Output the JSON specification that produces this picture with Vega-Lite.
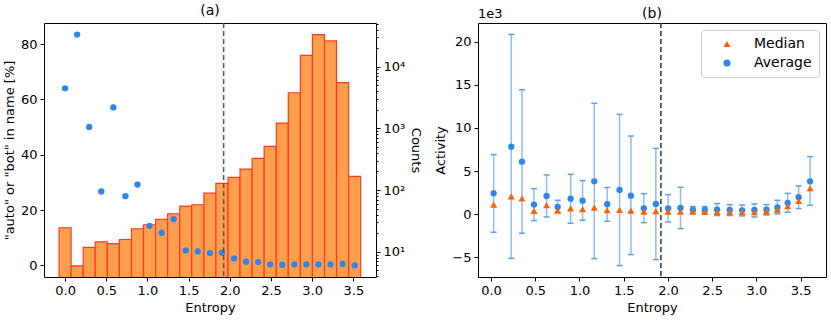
{
  "$schema": "https://vega.github.io/schema/vega-lite/v6.json",
  "background": "white",
  "padding": {"left": 2, "top": 3, "right": 3, "bottom": 3},
  "resolve": {"scale": {"color": "independent", "shape": "independent"}, "legend": {"color": "independent", "shape": "independent"}},
  "config": {
    "font": "DejaVu Sans",
    "view": {"stroke": "black", "strokeWidth": 1},
    "axis": {"domain": false, "grid": false, "tickColor": "black", "tickSize": 4, "tickWidth": 1, "labelColor": "black", "labelFontSize": 13, "titleFontSize": 13, "titleFontWeight": "normal", "titleColor": "black", "labelPadding": 3},
    "title": {"fontSize": 14, "fontWeight": "normal", "color": "black", "offset": 4},
    "concat": {"spacing": 11}
  },
  "datasets": {
    "hist": [
      {"x0": -0.073, "x1": 0.073, "xc": 0.0, "count": 24.5, "pct": 64.0},
      {"x0": 0.073, "x1": 0.220, "xc": 0.1465, "count": 5.9, "pct": 83.4},
      {"x0": 0.220, "x1": 0.366, "xc": 0.293, "count": 11.8, "pct": 50.0},
      {"x0": 0.366, "x1": 0.513, "xc": 0.4395, "count": 14.5, "pct": 26.7},
      {"x0": 0.513, "x1": 0.659, "xc": 0.586, "count": 13.6, "pct": 57.1},
      {"x0": 0.659, "x1": 0.806, "xc": 0.7325, "count": 15.8, "pct": 25.0},
      {"x0": 0.806, "x1": 0.952, "xc": 0.879, "count": 23.6, "pct": 29.2},
      {"x0": 0.952, "x1": 1.099, "xc": 1.0255, "count": 27.4, "pct": 14.3},
      {"x0": 1.099, "x1": 1.245, "xc": 1.172, "count": 33.4, "pct": 11.8},
      {"x0": 1.245, "x1": 1.392, "xc": 1.3185, "count": 41.3, "pct": 16.7},
      {"x0": 1.392, "x1": 1.538, "xc": 1.465, "count": 55, "pct": 5.4},
      {"x0": 1.538, "x1": 1.685, "xc": 1.6115, "count": 57.8, "pct": 5.05},
      {"x0": 1.685, "x1": 1.831, "xc": 1.758, "count": 89, "pct": 4.45},
      {"x0": 1.831, "x1": 1.978, "xc": 1.9045, "count": 128, "pct": 4.6},
      {"x0": 1.978, "x1": 2.124, "xc": 2.051, "count": 160, "pct": 2.5},
      {"x0": 2.124, "x1": 2.271, "xc": 2.1975, "count": 219, "pct": 1.3},
      {"x0": 2.271, "x1": 2.417, "xc": 2.344, "count": 326, "pct": 1.2},
      {"x0": 2.417, "x1": 2.564, "xc": 2.4905, "count": 511, "pct": 0.36},
      {"x0": 2.564, "x1": 2.710, "xc": 2.637, "count": 1219, "pct": 0.24},
      {"x0": 2.710, "x1": 2.857, "xc": 2.7835, "count": 3780, "pct": 0.36},
      {"x0": 2.857, "x1": 3.003, "xc": 2.93, "count": 15280, "pct": 0.36},
      {"x0": 3.003, "x1": 3.150, "xc": 3.0765, "count": 33000, "pct": 0.36},
      {"x0": 3.150, "x1": 3.296, "xc": 3.223, "count": 26080, "pct": 0.36},
      {"x0": 3.296, "x1": 3.443, "xc": 3.3695, "count": 5510, "pct": 0.5},
      {"x0": 3.443, "x1": 3.589, "xc": 3.516, "count": 167, "pct": 0.0}
    ],
    "act": [
      {"x": 0.030, "avg": 2.43, "hi": 6.91, "lo": -2.08, "med": 1.12},
      {"x": 0.229, "avg": 7.84, "hi": 20.85, "lo": -5.10, "med": 2.08},
      {"x": 0.350, "avg": 6.10, "hi": 14.44, "lo": -2.20, "med": 1.85},
      {"x": 0.486, "avg": 1.12, "hi": 2.97, "lo": -0.73, "med": 0.39},
      {"x": 0.628, "avg": 2.12, "hi": 4.56, "lo": -0.31, "med": 1.04},
      {"x": 0.753, "avg": 0.85, "hi": 1.62, "lo": 0.23, "med": 0.42},
      {"x": 0.900, "avg": 1.81, "hi": 4.63, "lo": -1.04, "med": 0.69},
      {"x": 1.035, "avg": 1.58, "hi": 3.90, "lo": -0.69, "med": 0.58},
      {"x": 1.167, "avg": 3.82, "hi": 12.86, "lo": -5.14, "med": 0.77},
      {"x": 1.313, "avg": 1.16, "hi": 3.09, "lo": -0.81, "med": 0.46},
      {"x": 1.453, "avg": 2.82, "hi": 11.58, "lo": -5.95, "med": 0.50},
      {"x": 1.581, "avg": 2.16, "hi": 9.07, "lo": -4.67, "med": 0.42},
      {"x": 1.727, "avg": 0.69, "hi": 2.39, "lo": -0.97, "med": 0.31},
      {"x": 1.863, "avg": 1.20, "hi": 7.64, "lo": -5.25, "med": 0.35},
      {"x": 2.002, "avg": 0.69, "hi": 2.28, "lo": -0.89, "med": 0.31},
      {"x": 2.142, "avg": 0.73, "hi": 3.13, "lo": -1.66, "med": 0.31},
      {"x": 2.281, "avg": 0.50, "hi": 0.89, "lo": 0.12, "med": 0.31},
      {"x": 2.416, "avg": 0.50, "hi": 0.89, "lo": 0.12, "med": 0.27},
      {"x": 2.555, "avg": 0.54, "hi": 1.24, "lo": -0.15, "med": 0.27},
      {"x": 2.698, "avg": 0.50, "hi": 1.12, "lo": -0.15, "med": 0.27},
      {"x": 2.838, "avg": 0.46, "hi": 1.08, "lo": -0.19, "med": 0.23},
      {"x": 2.977, "avg": 0.50, "hi": 1.20, "lo": -0.31, "med": 0.23},
      {"x": 3.113, "avg": 0.54, "hi": 1.12, "lo": -0.08, "med": 0.31},
      {"x": 3.237, "avg": 0.81, "hi": 1.62, "lo": 0.04, "med": 0.54},
      {"x": 3.353, "avg": 1.31, "hi": 2.43, "lo": 0.23, "med": 0.93},
      {"x": 3.477, "avg": 1.97, "hi": 3.28, "lo": 0.66, "med": 1.54},
      {"x": 3.606, "avg": 3.82, "hi": 6.68, "lo": 1.04, "med": 3.01}
    ],
    "one": [{}]
  },
  "hconcat": [
    {
      "width": 332,
      "height": 254,
      "title": {"text": "(a)", "offset": 4},
      "data": {"name": "hist"},
      "resolve": {"scale": {"y": "independent"}},
      "layer": [
        {
          "mark": {"type": "bar", "fill": "#ff9e4c", "stroke": "#ff3b22", "strokeWidth": 1.2, "clip": true},
          "encoding": {
            "x": {"field": "x0", "type": "quantitative", "scale": {"domain": [-0.256, 3.775], "nice": false, "zero": false}, "axis": {"values": [0, 0.5, 1, 1.5, 2, 2.5, 3, 3.5], "format": ".1f", "title": "Entropy"}},
            "x2": {"field": "x1"},
            "y": {"field": "count", "type": "quantitative", "scale": {"type": "log", "domain": [3.9, 51000], "nice": false}, "axis": {"orient": "right", "title": "Counts", "values": [4,5,6,7,8,9,10,20,30,40,50,60,70,80,90,100,200,300,400,500,600,700,800,900,1000,2000,3000,4000,5000,6000,7000,8000,9000,10000,20000,30000,40000,50000], "labelExpr": "datum.value == 10 ? '10¹' : datum.value == 100 ? '10²' : datum.value == 1000 ? '10³' : datum.value == 10000 ? '10⁴' : ''", "tickSize": {"condition": {"test": "datum.value == 10 || datum.value == 100 || datum.value == 1000 || datum.value == 10000", "value": 4}, "value": 2}}},
            "y2": {"datum": 1}
          }
        },
        {
          "mark": {"type": "circle", "color": "#2b87ea", "opacity": 1, "size": 40},
          "encoding": {
            "x": {"field": "xc", "type": "quantitative"},
            "y": {"field": "pct", "type": "quantitative", "scale": {"domain": [-4.2, 87.6], "nice": false, "zero": false}, "axis": {"orient": "left", "values": [0, 20, 40, 60, 80], "title": "\"auto\" or \"bot\" in name [%]"}}
          }
        },
        {
          "data": {"name": "one"},
          "mark": {"type": "rule", "color": "#555555", "strokeDash": [5, 3], "strokeWidth": 1.5},
          "encoding": {"x": {"datum": 1.925, "type": "quantitative"}}
        }
      ]
    },
    {
      "width": 348,
      "height": 254,
      "title": {"text": "(b)", "offset": -13},
      "data": {"name": "act"},
      "layer": [
        {
          "mark": {"type": "rule", "color": "#8dbef2", "strokeWidth": 1.5},
          "encoding": {
            "x": {"field": "x", "type": "quantitative", "scale": {"domain": [-0.147, 3.786], "nice": false, "zero": false}, "axis": {"values": [0, 0.5, 1, 1.5, 2, 2.5, 3, 3.5], "format": ".1f", "title": "Entropy"}},
            "y": {"field": "lo", "type": "quantitative", "scale": {"domain": [-7.27, 22.17], "nice": false, "zero": false}, "axis": {"values": [-5, 0, 5, 10, 15, 20], "format": "d", "title": "Activity"}},
            "y2": {"field": "hi"}
          }
        },
        {
          "mark": {"type": "tick", "orient": "horizontal", "size": 6, "thickness": 1.5, "color": "#5d9fea", "opacity": 1},
          "encoding": {"x": {"field": "x", "type": "quantitative"}, "y": {"field": "lo", "type": "quantitative"}}
        },
        {
          "mark": {"type": "tick", "orient": "horizontal", "size": 6, "thickness": 1.5, "color": "#5d9fea", "opacity": 1},
          "encoding": {"x": {"field": "x", "type": "quantitative"}, "y": {"field": "hi", "type": "quantitative"}}
        },
        {
          "mark": {"type": "point", "filled": true, "size": 40, "opacity": 1},
          "encoding": {
            "x": {"field": "x", "type": "quantitative"},
            "y": {"field": "avg", "type": "quantitative"},
            "color": {"datum": "Average", "scale": {"domain": ["Median", "Average"], "range": ["#ff6100", "#2b87ea"]}, "legend": {"title": null, "orient": "top-right", "offset": 7, "fillColor": "white", "strokeColor": "#cccccc", "padding": 7, "cornerRadius": 3, "labelFontSize": 14, "symbolSize": 50, "symbolOffset": 12, "labelOffset": 20, "rowPadding": 5}},
            "shape": {"datum": "Average", "scale": {"domain": ["Median", "Average"], "range": ["triangle-up", "circle"]}}
          }
        },
        {
          "mark": {"type": "point", "filled": true, "size": 50, "opacity": 1},
          "encoding": {
            "x": {"field": "x", "type": "quantitative"},
            "y": {"field": "med", "type": "quantitative"},
            "color": {"datum": "Median"},
            "shape": {"datum": "Median"}
          }
        },
        {
          "data": {"name": "one"},
          "mark": {"type": "rule", "color": "#333333", "strokeDash": [5, 3], "strokeWidth": 1.5},
          "encoding": {"x": {"datum": 1.92, "type": "quantitative"}}
        },
        {
          "data": {"name": "one"},
          "mark": {"type": "text", "text": "1e3", "align": "left", "baseline": "bottom", "fontSize": 13, "fontWeight": "normal", "dy": -2, "color": "black"},
          "encoding": {"x": {"datum": -0.147, "type": "quantitative"}, "y": {"datum": 22.17, "type": "quantitative"}}
        }
      ]
    }
  ]
}
